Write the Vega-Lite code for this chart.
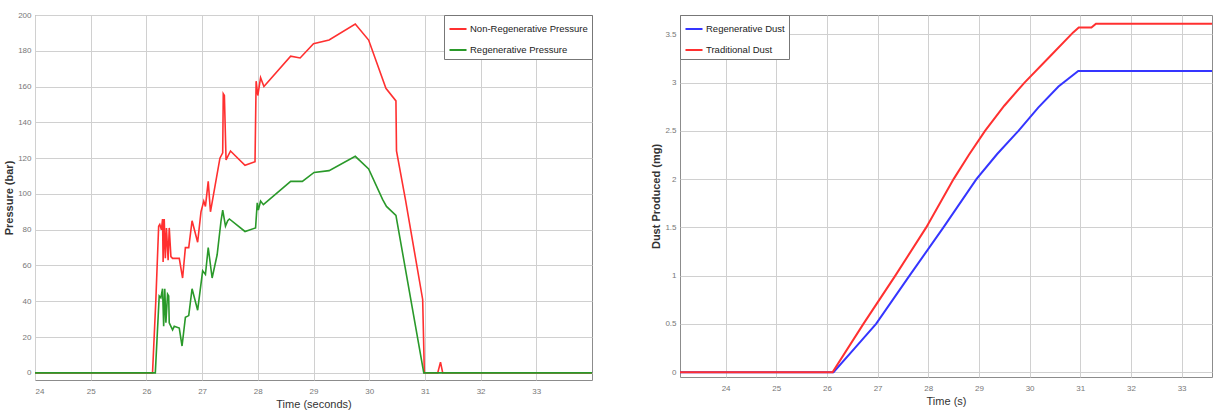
{
  "$schema": "https://vega.github.io/schema/vega-lite/v6.json",
  "background": "white",
  "padding": {"left": 3, "top": 10, "right": 0, "bottom": 0},
  "spacing": 57,
  "config": {
    "font": "Liberation Sans, sans-serif",
    "view": {"stroke": "#8c8c8c", "strokeWidth": 1},
    "axis": {
      "grid": true, "gridColor": "#d0d0d0", "gridWidth": 1,
      "domain": false, "ticks": false,
      "labelFontSize": 8, "labelColor": "#777777",
      "titleFontSize": 11, "titleColor": "#333333", "titleFontWeight": "normal"
    },
    "legend": {
      "strokeColor": "#777777", "fillColor": "white", "padding": 4,
      "symbolType": "stroke", "symbolStrokeWidth": 2, "symbolSize": 290,
      "labelFontSize": 9.5, "labelColor": "#222222", "rowPadding": 6, "offset": 0, "labelOffset": 2
    }
  },
  "resolve": {"scale": {"color": "independent"}},
  "hconcat": [
    {
      "width": 557,
      "height": 365,
      "data": {"values": [
        {"series": "Non-Regenerative Pressure", "t": 24, "p": 0},
        {"series": "Non-Regenerative Pressure", "t": 26.11, "p": 0},
        {"series": "Non-Regenerative Pressure", "t": 26.17, "p": 41},
        {"series": "Non-Regenerative Pressure", "t": 26.22, "p": 82},
        {"series": "Non-Regenerative Pressure", "t": 26.24, "p": 83},
        {"series": "Non-Regenerative Pressure", "t": 26.27, "p": 80},
        {"series": "Non-Regenerative Pressure", "t": 26.29, "p": 86},
        {"series": "Non-Regenerative Pressure", "t": 26.30, "p": 62},
        {"series": "Non-Regenerative Pressure", "t": 26.32, "p": 86},
        {"series": "Non-Regenerative Pressure", "t": 26.34, "p": 64},
        {"series": "Non-Regenerative Pressure", "t": 26.36, "p": 81},
        {"series": "Non-Regenerative Pressure", "t": 26.39, "p": 63},
        {"series": "Non-Regenerative Pressure", "t": 26.41, "p": 81},
        {"series": "Non-Regenerative Pressure", "t": 26.44, "p": 65},
        {"series": "Non-Regenerative Pressure", "t": 26.47, "p": 64},
        {"series": "Non-Regenerative Pressure", "t": 26.59, "p": 64},
        {"series": "Non-Regenerative Pressure", "t": 26.65, "p": 53},
        {"series": "Non-Regenerative Pressure", "t": 26.70, "p": 70},
        {"series": "Non-Regenerative Pressure", "t": 26.76, "p": 70},
        {"series": "Non-Regenerative Pressure", "t": 26.82, "p": 85},
        {"series": "Non-Regenerative Pressure", "t": 26.92, "p": 73},
        {"series": "Non-Regenerative Pressure", "t": 26.98, "p": 90},
        {"series": "Non-Regenerative Pressure", "t": 27.03, "p": 96},
        {"series": "Non-Regenerative Pressure", "t": 27.06, "p": 93},
        {"series": "Non-Regenerative Pressure", "t": 27.11, "p": 107},
        {"series": "Non-Regenerative Pressure", "t": 27.15, "p": 90},
        {"series": "Non-Regenerative Pressure", "t": 27.32, "p": 120},
        {"series": "Non-Regenerative Pressure", "t": 27.37, "p": 123},
        {"series": "Non-Regenerative Pressure", "t": 27.38, "p": 156},
        {"series": "Non-Regenerative Pressure", "t": 27.40, "p": 155},
        {"series": "Non-Regenerative Pressure", "t": 27.43, "p": 119},
        {"series": "Non-Regenerative Pressure", "t": 27.51, "p": 124},
        {"series": "Non-Regenerative Pressure", "t": 27.77, "p": 116},
        {"series": "Non-Regenerative Pressure", "t": 27.95, "p": 118},
        {"series": "Non-Regenerative Pressure", "t": 27.97, "p": 163},
        {"series": "Non-Regenerative Pressure", "t": 28.00, "p": 155},
        {"series": "Non-Regenerative Pressure", "t": 28.05, "p": 165},
        {"series": "Non-Regenerative Pressure", "t": 28.11, "p": 160},
        {"series": "Non-Regenerative Pressure", "t": 28.59, "p": 177},
        {"series": "Non-Regenerative Pressure", "t": 28.76, "p": 176},
        {"series": "Non-Regenerative Pressure", "t": 29.00, "p": 184},
        {"series": "Non-Regenerative Pressure", "t": 29.28, "p": 186},
        {"series": "Non-Regenerative Pressure", "t": 29.75, "p": 195},
        {"series": "Non-Regenerative Pressure", "t": 29.99, "p": 186},
        {"series": "Non-Regenerative Pressure", "t": 30.30, "p": 159},
        {"series": "Non-Regenerative Pressure", "t": 30.48, "p": 152},
        {"series": "Non-Regenerative Pressure", "t": 30.49, "p": 124},
        {"series": "Non-Regenerative Pressure", "t": 30.65, "p": 97},
        {"series": "Non-Regenerative Pressure", "t": 30.96, "p": 41},
        {"series": "Non-Regenerative Pressure", "t": 30.99, "p": 0},
        {"series": "Non-Regenerative Pressure", "t": 31.23, "p": 0},
        {"series": "Non-Regenerative Pressure", "t": 31.28, "p": 6},
        {"series": "Non-Regenerative Pressure", "t": 31.32, "p": 0},
        {"series": "Non-Regenerative Pressure", "t": 34, "p": 0},
        {"series": "Regenerative Pressure", "t": 24, "p": 0},
        {"series": "Regenerative Pressure", "t": 26.16, "p": 0},
        {"series": "Regenerative Pressure", "t": 26.23, "p": 43},
        {"series": "Regenerative Pressure", "t": 26.26, "p": 42},
        {"series": "Regenerative Pressure", "t": 26.29, "p": 47},
        {"series": "Regenerative Pressure", "t": 26.31, "p": 26},
        {"series": "Regenerative Pressure", "t": 26.33, "p": 47},
        {"series": "Regenerative Pressure", "t": 26.35, "p": 28},
        {"series": "Regenerative Pressure", "t": 26.38, "p": 44},
        {"series": "Regenerative Pressure", "t": 26.40, "p": 43},
        {"series": "Regenerative Pressure", "t": 26.41, "p": 28},
        {"series": "Regenerative Pressure", "t": 26.44, "p": 26},
        {"series": "Regenerative Pressure", "t": 26.47, "p": 24},
        {"series": "Regenerative Pressure", "t": 26.50, "p": 26},
        {"series": "Regenerative Pressure", "t": 26.59, "p": 25},
        {"series": "Regenerative Pressure", "t": 26.64, "p": 15},
        {"series": "Regenerative Pressure", "t": 26.70, "p": 31},
        {"series": "Regenerative Pressure", "t": 26.76, "p": 32},
        {"series": "Regenerative Pressure", "t": 26.82, "p": 47},
        {"series": "Regenerative Pressure", "t": 26.92, "p": 35},
        {"series": "Regenerative Pressure", "t": 27.01, "p": 57},
        {"series": "Regenerative Pressure", "t": 27.06, "p": 55},
        {"series": "Regenerative Pressure", "t": 27.11, "p": 70},
        {"series": "Regenerative Pressure", "t": 27.18, "p": 53},
        {"series": "Regenerative Pressure", "t": 27.27, "p": 66},
        {"series": "Regenerative Pressure", "t": 27.34, "p": 85},
        {"series": "Regenerative Pressure", "t": 27.37, "p": 91},
        {"series": "Regenerative Pressure", "t": 27.42, "p": 82},
        {"series": "Regenerative Pressure", "t": 27.46, "p": 85},
        {"series": "Regenerative Pressure", "t": 27.49, "p": 86},
        {"series": "Regenerative Pressure", "t": 27.77, "p": 79},
        {"series": "Regenerative Pressure", "t": 27.96, "p": 81},
        {"series": "Regenerative Pressure", "t": 27.99, "p": 95},
        {"series": "Regenerative Pressure", "t": 28.01, "p": 91},
        {"series": "Regenerative Pressure", "t": 28.05, "p": 96},
        {"series": "Regenerative Pressure", "t": 28.10, "p": 94},
        {"series": "Regenerative Pressure", "t": 28.59, "p": 107},
        {"series": "Regenerative Pressure", "t": 28.80, "p": 107},
        {"series": "Regenerative Pressure", "t": 29.01, "p": 112},
        {"series": "Regenerative Pressure", "t": 29.28, "p": 113},
        {"series": "Regenerative Pressure", "t": 29.75, "p": 121},
        {"series": "Regenerative Pressure", "t": 29.99, "p": 114},
        {"series": "Regenerative Pressure", "t": 30.24, "p": 97},
        {"series": "Regenerative Pressure", "t": 30.31, "p": 93},
        {"series": "Regenerative Pressure", "t": 30.48, "p": 88},
        {"series": "Regenerative Pressure", "t": 30.98, "p": 0},
        {"series": "Regenerative Pressure", "t": 34, "p": 0}
      ]},
      "mark": {"type": "line", "strokeWidth": 1.6, "clip": true},
      "encoding": {
        "x": {
          "field": "t", "type": "quantitative",
          "scale": {"domain": [24, 34], "nice": false, "zero": false},
          "axis": {"values": [24, 25, 26, 27, 28, 29, 30, 31, 32, 33], "title": "Time (seconds)", "labelPadding": 7, "titlePadding": 3}
        },
        "y": {
          "field": "p", "type": "quantitative",
          "scale": {"domain": [-4, 200], "nice": false, "zero": false},
          "axis": {"values": [0, 20, 40, 60, 80, 100, 120, 140, 160, 180, 200], "title": "Pressure (bar)", "titleFontWeight": "bold", "labelPadding": 4, "titlePadding": 3}
        },
        "color": {
          "field": "series", "type": "nominal",
          "scale": {"domain": ["Non-Regenerative Pressure", "Regenerative Pressure"], "range": ["#ff3030", "#2a992a"]},
          "legend": {"title": null, "orient": "top-right"}
        }
      }
    },
    {
      "width": 532,
      "height": 362,
      "data": {"values": [
        {"series": "Regenerative Dust", "t": 23.1, "d": 0},
        {"series": "Regenerative Dust", "t": 26.13, "d": 0},
        {"series": "Regenerative Dust", "t": 26.55, "d": 0.25},
        {"series": "Regenerative Dust", "t": 26.97, "d": 0.5},
        {"series": "Regenerative Dust", "t": 27.63, "d": 1.0},
        {"series": "Regenerative Dust", "t": 28.3, "d": 1.5},
        {"series": "Regenerative Dust", "t": 28.95, "d": 2.0},
        {"series": "Regenerative Dust", "t": 29.36, "d": 2.26},
        {"series": "Regenerative Dust", "t": 29.78, "d": 2.5},
        {"series": "Regenerative Dust", "t": 30.17, "d": 2.74},
        {"series": "Regenerative Dust", "t": 30.57, "d": 2.96},
        {"series": "Regenerative Dust", "t": 30.96, "d": 3.12},
        {"series": "Regenerative Dust", "t": 33.6, "d": 3.12},
        {"series": "Traditional Dust", "t": 23.1, "d": 0},
        {"series": "Traditional Dust", "t": 26.11, "d": 0},
        {"series": "Traditional Dust", "t": 26.72, "d": 0.5},
        {"series": "Traditional Dust", "t": 27.35, "d": 1.0},
        {"series": "Traditional Dust", "t": 27.96, "d": 1.5},
        {"series": "Traditional Dust", "t": 28.5, "d": 2.0},
        {"series": "Traditional Dust", "t": 28.8, "d": 2.25},
        {"series": "Traditional Dust", "t": 29.12, "d": 2.5},
        {"series": "Traditional Dust", "t": 29.5, "d": 2.76},
        {"series": "Traditional Dust", "t": 29.9, "d": 3.0},
        {"series": "Traditional Dust", "t": 30.4, "d": 3.27},
        {"series": "Traditional Dust", "t": 30.86, "d": 3.52},
        {"series": "Traditional Dust", "t": 30.97, "d": 3.57},
        {"series": "Traditional Dust", "t": 31.22, "d": 3.57},
        {"series": "Traditional Dust", "t": 31.31, "d": 3.61},
        {"series": "Traditional Dust", "t": 33.6, "d": 3.61}
      ]},
      "mark": {"type": "line", "strokeWidth": 2, "clip": true},
      "encoding": {
        "x": {
          "field": "t", "type": "quantitative",
          "scale": {"domain": [23.1, 33.6], "nice": false, "zero": false},
          "axis": {"values": [24, 25, 26, 27, 28, 29, 30, 31, 32, 33], "title": "Time (s)", "labelPadding": 7, "titlePadding": 3}
        },
        "y": {
          "field": "d", "type": "quantitative",
          "scale": {"domain": [-0.05, 3.7], "nice": false, "zero": false},
          "axis": {"values": [0, 0.5, 1, 1.5, 2, 2.5, 3, 3.5], "format": "~g", "title": "Dust Produced (mg)", "titleFontWeight": "bold", "labelPadding": 4, "titlePadding": 3}
        },
        "color": {
          "field": "series", "type": "nominal",
          "scale": {"domain": ["Regenerative Dust", "Traditional Dust"], "range": ["#3535ff", "#ff3030"]},
          "legend": {"title": null, "orient": "top-left"}
        }
      }
    }
  ]
}
